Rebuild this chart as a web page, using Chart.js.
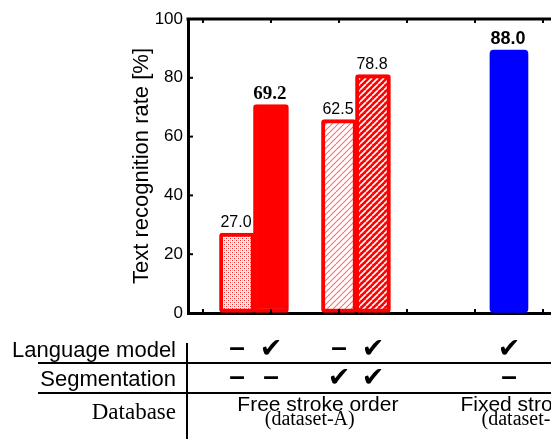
<!DOCTYPE html>
<html>
<head>
<meta charset="utf-8">
<script src="https://cdn.jsdelivr.net/npm/chart.js@4.4.1/dist/chart.umd.min.js"></script>
<style>
  html, body { margin: 0; padding: 0; background: #fff; overflow: hidden; }
  canvas { display: block; }
</style>
</head>
<body>
<canvas id="rate-chart" width="551" height="439"></canvas>
<script>
// free stroke order (dataset-A): bar positions, drawn heights, printed values
const freePositions = [0.5, 1.0, 2.0, 2.5];
const freeHeights = [27.2, 70.9, 65.8, 81.1];
const freeLabels = ['27.0', '69.2', '62.5', '78.8'];

// fixed stroke order (dataset-B)
const fixedPositions = [4.5];
const fixedHeights = [89.4];
const fixedLabels = ['88.0'];

const yTicks = [0, 20, 40, 60, 80, 100];
const xTicks = [0, 1, 2, 3, 4, 5];

// table under the chart
const rowNames = ['Language model', 'Segmentation'];
const freeLanguageModel = ['–', '✔', '–', '✔'];
const freeSegmentation = ['–', '–', '✔', '✔'];
const fixedLanguageModel = ['✔'];
const fixedSegmentation = ['–'];
const databaseNames = ['Free stroke order', 'Fixed stroke order'];
const databaseIds = ['(dataset-A)', '(dataset-B)'];

const SANS = '"Liberation Sans", Arial, sans-serif';
const SERIF = '"Liberation Serif", "Times New Roman", serif';

function makePattern(size, draw) {
  const c = document.createElement('canvas');
  c.width = size;
  c.height = size;
  const g = c.getContext('2d');
  draw(g, size);
  return document.getElementById('rate-chart').getContext('2d').createPattern(c, 'repeat');
}

const dotted = makePattern(4, (g) => {
  g.fillStyle = '#fff';
  g.fillRect(0, 0, 4, 4);
  g.fillStyle = '#ff2020';
  g.fillRect(0, 0, 1, 1);
  g.fillRect(2, 2, 1, 1);
  g.fillStyle = '#ffb0b0';
  g.fillRect(2, 0, 1, 1);
  g.fillRect(0, 2, 1, 1);
});

const thinHatch = makePattern(6, (g, s) => {
  g.fillStyle = '#fff';
  g.fillRect(0, 0, s, s);
  g.strokeStyle = '#ff6a6a';
  g.lineWidth = 1.1;
  [0, -s, s].forEach((ox) => {
    g.beginPath();
    g.moveTo(ox, s);
    g.lineTo(ox + s, 0);
    g.stroke();
  });
});

const thickHatch = makePattern(6, (g, s) => {
  g.fillStyle = '#ff0000';
  g.fillRect(0, 0, s, s);
  g.strokeStyle = '#fff';
  g.lineWidth = 1.6;
  [0, -s, s].forEach((ox) => {
    g.beginPath();
    g.moveTo(ox, s);
    g.lineTo(ox + s, 0);
    g.stroke();
  });
});

const freeFonts = ['16px ' + SANS, 'bold 19px ' + SERIF, '16px ' + SANS, '16px ' + SANS];
const fixedFonts = ['bold 18px ' + SANS];

function line(ctx, x1, y1, x2, y2) {
  ctx.beginPath();
  ctx.moveTo(x1, y1);
  ctx.lineTo(x2, y2);
  ctx.stroke();
}

const frameAndTable = {
  id: 'frameAndTable',
  afterDatasetsDraw(chart) {
    const { ctx, chartArea: area, scales: { x, y } } = chart;
    ctx.save();

    // value labels above the bars
    ctx.fillStyle = '#000';
    ctx.textAlign = 'center';
    ctx.textBaseline = 'alphabetic';
    [[freeLabels, freeFonts], [fixedLabels, fixedFonts]].forEach(([labels, fonts], di) => {
      chart.getDatasetMeta(di).data.forEach((bar, i) => {
        ctx.font = fonts[i];
        ctx.fillText(labels[i], bar.x - 1, bar.y - 6);
      });
    });

    // top frame line and inward ticks
    ctx.strokeStyle = '#000';
    ctx.lineWidth = 3;
    line(ctx, area.left - 1.5, area.top, area.right, area.top);
    ctx.lineWidth = 2;
    xTicks.forEach((v) => {
      const px = x.getPixelForValue(v);
      line(ctx, px, area.top, px, area.top + 4);
      line(ctx, px, area.bottom, px, area.bottom - 4);
    });
    yTicks.forEach((v) => {
      const py = y.getPixelForValue(v);
      line(ctx, area.left, py, area.left + 5, py);
    });
    ctx.restore();
  },
  afterDraw(chart) {
    const { ctx, scales: { x } } = chart;
    const W = chart.width;
    ctx.save();
    ctx.strokeStyle = '#000';
    ctx.fillStyle = '#000';

    // grid lines of the table
    ctx.lineWidth = 2;
    line(ctx, 38, 363, W, 363);
    line(ctx, 38, 393, W, 393);
    line(ctx, 187, 343, 187, 439);

    // row headers
    ctx.textAlign = 'right';
    ctx.textBaseline = 'alphabetic';
    ctx.font = '22px ' + SANS;
    ctx.fillText(rowNames[0], 176, 357);
    ctx.fillText(rowNames[1], 176, 386);
    ctx.font = '23px ' + SERIF;
    ctx.fillText('Database', 176, 419);

    // check marks and dashes under each bar
    ctx.textAlign = 'center';
    ctx.textBaseline = 'middle';
    const drawMark = (mark, px, py) => {
      if (mark === '✔') {
        ctx.font = '27px "DejaVu Sans"';
        ctx.fillText(mark, px, py);
      } else {
        ctx.font = 'bold 28px ' + SANS;
        ctx.fillText(mark, px, py - 2);
      }
    };
    freePositions.forEach((v, i) => {
      const px = x.getPixelForValue(v);
      drawMark(freeLanguageModel[i], px, 350);
      drawMark(freeSegmentation[i], px, 379);
    });
    fixedPositions.forEach((v, i) => {
      const px = x.getPixelForValue(v);
      drawMark(fixedLanguageModel[i], px, 350);
      drawMark(fixedSegmentation[i], px, 379);
    });

    // database names (centres in x-axis units)
    const nameCenters = [1.69, 5.03];
    const idCenters = [1.57, 4.75];
    ctx.textBaseline = 'alphabetic';
    databaseNames.forEach((name, i) => {
      ctx.font = '21px ' + SANS;
      ctx.fillText(name, x.getPixelForValue(nameCenters[i]), 411);
      ctx.font = '20px ' + SERIF;
      ctx.fillText(databaseIds[i], x.getPixelForValue(idCenters[i]), 425);
    });
    ctx.restore();
  }
};

const ctx = document.getElementById('rate-chart').getContext('2d');
new Chart(ctx, {
  type: 'bar',
  data: {
    datasets: [
      {
        label: 'Free stroke order',
        data: freePositions.map((p, i) => ({ x: p, y: freeHeights[i] })),
        backgroundColor: [dotted, '#ff0000', thinHatch, thickHatch],
        borderColor: '#ff0000',
        borderWidth: 4,
        borderRadius: 3,
        borderSkipped: false,
        barThickness: 35,
        grouped: false,
      },
      {
        label: 'Fixed stroke order',
        data: fixedPositions.map((p, i) => ({ x: p, y: fixedHeights[i] })),
        backgroundColor: '#0000ff',
        borderWidth: 0,
        borderRadius: 4,
        borderSkipped: false,
        barThickness: 38,
        grouped: false,
      },
    ],
  },
  options: {
    responsive: false,
    animation: false,
    devicePixelRatio: 1,
    layout: { padding: { left: 129, top: 19, right: 0, bottom: 126 } },
    plugins: {
      legend: { display: false },
      tooltip: { enabled: false },
    },
    scales: {
      x: {
        type: 'linear',
        offset: false,
        min: -0.22,
        max: 5.118,
        grid: { display: false, offset: false },
        border: { display: true, color: '#000', width: 3 },
        ticks: { display: false },
        afterFit: (s) => { s.height = 0; },
      },
      y: {
        min: 0,
        max: 100,
        grid: { drawOnChartArea: false, drawTicks: false },
        border: { display: true, color: '#000', width: 3 },
        ticks: {
          stepSize: 20,
          padding: 5,
          color: '#000',
          font: { family: SANS, size: 17 },
        },
        title: {
          display: true,
          text: 'Text recognition rate [%]',
          color: '#000',
          padding: 0,
          font: { family: SANS, size: 22 },
        },
        afterFit: (s) => { s.width = 59; },
      },
    },
  },
  plugins: [frameAndTable],
});
</script>
</body>
</html>
